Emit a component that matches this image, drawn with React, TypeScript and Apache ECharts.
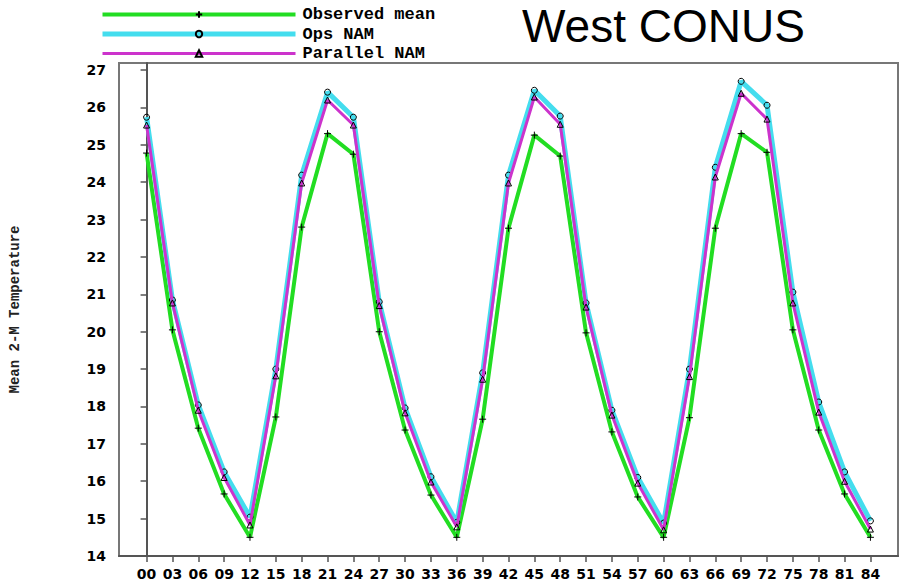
import React, { useEffect, useRef } from "react";
import * as echarts from "echarts";

const hours = [0, 3, 6, 9, 12, 15, 18, 21, 24, 27, 30, 33, 36, 39, 42, 45, 48, 51, 54, 57, 60, 63, 66, 69, 72, 75, 78, 81, 84];
const observedMean = [24.78, 20.05, 17.42, 15.66, 14.5, 17.72, 22.8, 25.3, 24.75, 20.0, 17.37, 15.63, 14.5, 17.66, 22.77, 25.26, 24.7, 19.97, 17.32, 15.58, 14.5, 17.7, 22.77, 25.3, 24.8, 20.05, 17.37, 15.66, 14.5];
const opsNAM = [25.74, 20.85, 18.04, 16.25, 15.04, 19.0, 24.19, 26.41, 25.74, 20.8, 17.96, 16.12, 14.9, 18.9, 24.19, 26.46, 25.77, 20.77, 17.9, 16.1, 14.88, 19.0, 24.4, 26.7, 26.06, 21.06, 18.12, 16.25, 14.94];
const parallelNAM = [25.53, 20.77, 17.9, 16.1, 14.83, 18.82, 23.98, 26.2, 25.53, 20.7, 17.83, 15.98, 14.78, 18.73, 23.98, 26.28, 25.55, 20.66, 17.77, 15.95, 14.7, 18.8, 24.14, 26.38, 25.69, 20.77, 17.85, 16.0, 14.72];
const yTicks = [14, 15, 16, 17, 18, 19, 20, 21, 22, 23, 24, 25, 26, 27];
const seriesNames = ["Observed mean", "Ops NAM", "Parallel NAM"];

const pair = (vals: number[]) => hours.map((h, i) => [h, vals[i]]);

export default function App() {
  const ref = useRef<HTMLDivElement>(null);
  useEffect(() => {
    if (!ref.current) return;
    const chart = echarts.init(ref.current, undefined, { renderer: "svg" });
    const markerStyle = { color: "rgba(0,0,0,0)", borderColor: "#000", borderWidth: 1 };
    const axisCol = "#555";
    chart.setOption({
      animation: false,
      backgroundColor: "#fff",
      title: {
        text: "West CONUS",
        left: 522,
        top: 3,
        padding: 0,
        textStyle: { fontFamily: "Liberation Sans", fontWeight: "normal", fontSize: 46, lineHeight: 46, color: "#000" },
      },
      legend: {
        orient: "vertical",
        left: 100,
        top: 6,
        padding: 0,
        itemWidth: 193,
        itemHeight: 8,
        itemGap: 2.5,
        data: seriesNames,
        lineStyle: { width: "inherit" },
        textStyle: { fontFamily: "Liberation Mono", fontWeight: "bold", fontSize: 17, lineHeight: 16, color: "#000", padding: [0, 0, 0, 2] },
      },
      grid: {
        left: 119,
        right: 7,
        top: 63,
        bottom: 31,
        show: true,
        borderColor: "#777",
        borderWidth: 2,
      },
      xAxis: {
        type: "value",
        min: -3.2,
        max: 87.2,
        splitLine: { show: false },
        axisLine: { show: true, onZero: false, lineStyle: { color: axisCol, width: 2 } },
        axisTick: { show: true, length: 6, customValues: hours, lineStyle: { color: axisCol, width: 1.5 } },
        axisLabel: {
          customValues: hours,
          margin: 11,
          formatter: (v: number) => String(v).padStart(2, "0"),
          fontFamily: "DejaVu Sans",
          fontWeight: "bold",
          fontSize: 14,
          color: "#000",
        },
      },
      yAxis: {
        type: "value",
        min: 14,
        max: 27.19,
        interval: 1,
        name: "Mean 2-M Temperature",
        nameLocation: "middle",
        nameRotate: 90,
        nameGap: 97,
        nameTextStyle: { fontFamily: "Liberation Mono", fontWeight: "bold", fontSize: 14, color: "#222" },
        splitLine: { show: false },
        axisLine: { show: true, lineStyle: { color: axisCol, width: 2 } },
        axisTick: { show: true, length: 6, customValues: yTicks, lineStyle: { color: axisCol, width: 1.5 } },
        axisLabel: {
          customValues: yTicks,
          margin: 13,
          fontFamily: "DejaVu Sans",
          fontWeight: "bold",
          fontSize: 14,
          color: "#000",
        },
      },
      series: [
        {
          name: seriesNames[0],
          type: "line",
          data: pair(observedMean),
          symbol: "path://M0 5H10M5 0V10",
          symbolSize: 7,
          showAllSymbol: true,
          lineStyle: { color: "#22DD22", width: 4 },
          itemStyle: markerStyle,
          z: 2,
        },
        {
          name: seriesNames[1],
          type: "line",
          data: pair(opsNAM),
          symbol: "circle",
          symbolSize: 6,
          showAllSymbol: true,
          lineStyle: { color: "#44DDEE", width: 5 },
          itemStyle: markerStyle,
          z: 3,
        },
        {
          name: seriesNames[2],
          type: "line",
          data: pair(parallelNAM),
          symbol: "triangle",
          symbolSize: 6,
          showAllSymbol: true,
          lineStyle: { color: "#CC33CC", width: 3 },
          itemStyle: markerStyle,
          z: 4,
        },
      ],
    });
    return () => chart.dispose();
  }, []);
  return <div ref={ref} style={{ position: "fixed", left: 0, top: 0, width: 905, height: 587 }} />;
}
